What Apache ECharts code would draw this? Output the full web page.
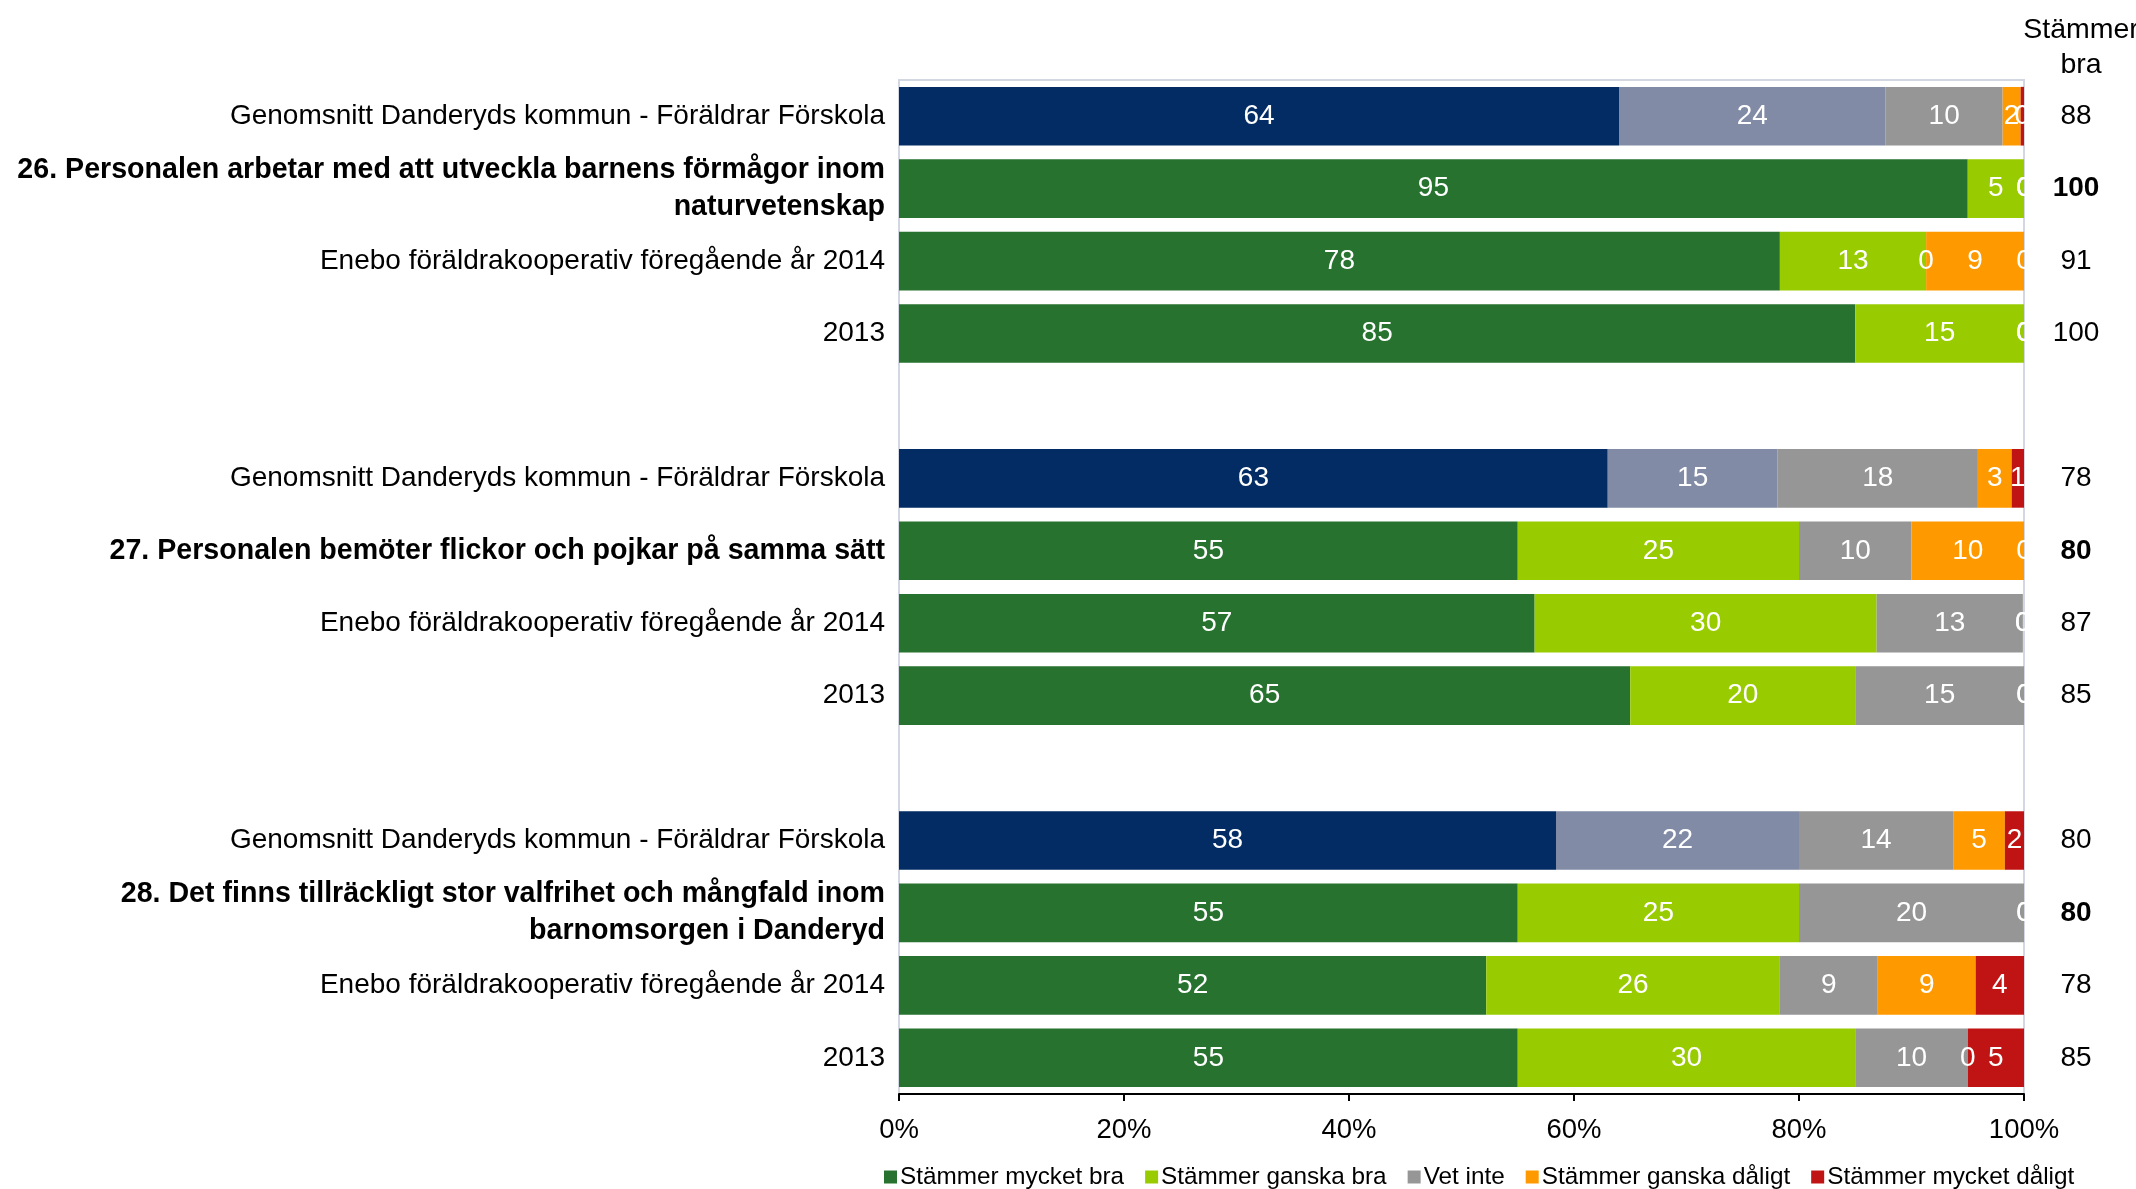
<!DOCTYPE html>
<html>
<head>
<meta charset="utf-8">
<script src="https://cdn.jsdelivr.net/npm/echarts@6/dist/echarts.min.js"></script>
<style>
html,body{margin:0;padding:0;background:#fff;}
#chart{width:2136px;height:1189px;}
</style>
</head>
<body>
<div id="chart"></div>
<script>
// Row labels, top to bottom ('' = spacer row)
var categories = [
  'Genomsnitt Danderyds kommun - Föräldrar Förskola',
  '26. Personalen arbetar med att utveckla barnens förmågor inom\nnaturvetenskap',
  'Enebo föräldrakooperativ föregående år 2014',
  '2013',
  '',
  'Genomsnitt Danderyds kommun - Föräldrar Förskola',
  '27. Personalen bemöter flickor och pojkar på samma sätt',
  'Enebo föräldrakooperativ föregående år 2014',
  '2013',
  '',
  'Genomsnitt Danderyds kommun - Föräldrar Förskola',
  '28. Det finns tillräckligt stor valfrihet och mångfald inom\nbarnomsorgen i Danderyd',
  'Enebo föräldrakooperativ föregående år 2014',
  '2013'
];
// Row kind: 'avg' = kommun average, 'q' = question (bold), 'o' = other, '' = spacer
var rowKind = ['avg','q','o','o','', 'avg','q','o','o','', 'avg','q','o','o'];

var seriesNames = ['Stämmer mycket bra','Stämmer ganska bra','Vet inte','Stämmer ganska dåligt','Stämmer mycket dåligt'];

var mycketBra  = [64.0, 95, 78.3, 85, null, 63.0, 55, 56.5, 65, null, 58.4, 55, 52.2, 55];
var ganskaBra  = [23.7,  5, 13.0, 15, null, 15.1, 25, 30.4, 20, null, 21.6, 25, 26.1, 30];
var vetInte    = [10.4,  0,  0,    0, null, 17.8, 10, 13.0, 15, null, 13.7, 20,  8.7, 10];
var ganskaDal  = [ 1.6,  0,  8.7,  0, null,  3.0, 10,  0,    0, null,  4.6,  0,  8.7,  0];
var mycketDal  = [ 0.3,  0,  0,    0, null,  1.1,  0,  0,    0, null,  1.7,  0,  4.3,  5];

// "Stämmer bra" column on the right
var stammerBra = ['88','100','91','100','', '78','80','87','85','', '80','80','78','85'];

var xTicks = [0, 20, 40, 60, 80, 100];

var seriesValues = [mycketBra, ganskaBra, vetInte, ganskaDal, mycketDal];
var colors    = ['#26722e', '#99cc00', '#969696', '#ff9900', '#c01414'];
var avgColors = ['#022c63', '#818ba6', '#969696', '#ff9900', '#c01414'];

var FONT = '"Liberation Sans", Arial, sans-serif';

var series = seriesValues.map(function (vals, si) {
  return {
    name: seriesNames[si],
    type: 'bar',
    stack: 'total',
    barCategoryGap: '19%',
    itemStyle: { color: colors[si] },
    label: {
      show: true,
      position: 'inside',
      color: '#fff',
      fontSize: 28,
      fontFamily: FONT,
      formatter: function (p) { return p.value == null ? '' : String(Math.round(p.value)); }
    },
    data: vals.map(function (v, i) {
      if (v == null) return '-';
      if (rowKind[i] === 'avg') return { value: v, itemStyle: { color: avgColors[si] } };
      return v;
    })
  };
});

var chart = echarts.init(document.getElementById('chart'));
chart.setOption({
  backgroundColor: '#fff',
  animation: false,
  textStyle: { fontFamily: FONT },
  title: {
    text: 'Stämmer\nbra',
    left: 2076,
    top: 8,
    textAlign: 'center',
    textStyle: { fontSize: 28.5, fontWeight: 'normal', color: '#000', fontFamily: FONT, lineHeight: 35 }
  },
  legend: {
    top: 1160,
    left: 879,
    itemWidth: 13,
    itemHeight: 13,
    itemGap: 21,
    icon: 'rect',
    textStyle: { fontSize: 24.3, color: '#000', fontFamily: FONT, padding: [0,0,0,-2] },
    data: seriesNames
  },
  grid: {
    left: 899, right: 112, top: 80, bottom: 95,
    show: true, borderColor: '#d2d7e2', borderWidth: 2,
    containLabel: false
  },
  xAxis: {
    type: 'value',
    min: 0, max: 100, interval: 20,
    splitLine: { show: false },
    axisLine: { show: true, lineStyle: { color: '#000', width: 2 } },
    axisTick: { show: true, length: 7, lineStyle: { color: '#000', width: 2 } },
    axisLabel: {
      fontSize: 27.5, color: '#000', margin: 22, fontFamily: FONT,
      formatter: function (v) { return xTicks.indexOf(v) >= 0 ? v + '%' : ''; }
    }
  },
  yAxis: [{
    type: 'category',
    inverse: true,
    data: categories,
    axisLine: { show: false },
    axisTick: { show: false },
    axisLabel: {
      margin: 14,
      fontSize: 28,
      color: '#000',
      fontFamily: FONT,
      lineHeight: 37,
      formatter: function (val, idx) {
        if (rowKind[idx] === 'q') {
          return val.split('\n').map(function (l) { return '{b|' + l + '}'; }).join('\n');
        }
        return val;
      },
      rich: {
        b: { fontWeight: 'bold', fontSize: 28.6, color: '#000', fontFamily: FONT, lineHeight: 37 }
      }
    }
  }, {
    type: 'category',
    position: 'right',
    inverse: true,
    data: stammerBra,
    axisLine: { show: false },
    axisTick: { show: false },
    axisLabel: {
      margin: 52,
      align: 'center',
      fontSize: 28,
      color: '#000',
      fontFamily: FONT,
      formatter: function (val, idx) {
        return rowKind[idx] === 'q' ? '{b|' + val + '}' : val;
      },
      rich: { b: { fontWeight: 'bold', fontSize: 28, color: '#000', fontFamily: FONT } }
    }
  }],
  series: series
});
</script>
</body>
</html>
